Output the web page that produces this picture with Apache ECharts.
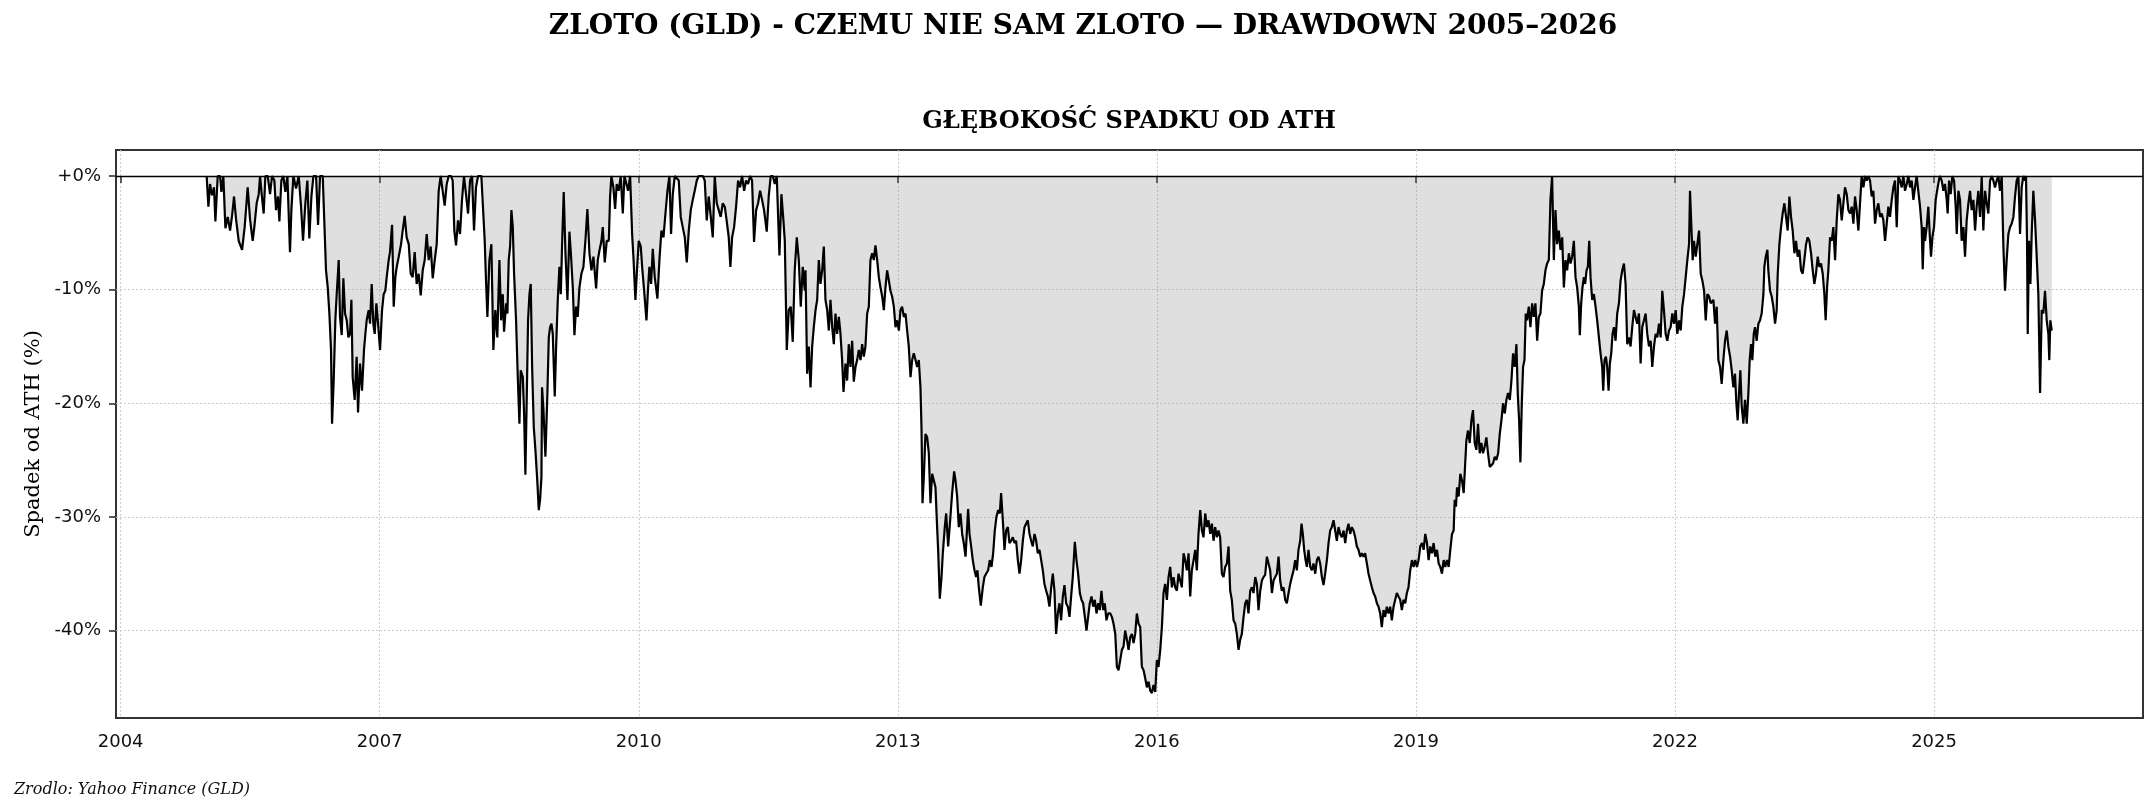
<!DOCTYPE html>
<html>
<head>
<meta charset="utf-8">
<script src="https://cdn.jsdelivr.net/npm/echarts@6/dist/echarts.min.js"></script>
<style>
html, body { margin: 0; padding: 0; background: #fff; }
#chart { width: 2156px; height: 812px; }
</style>
</head>
<body>
<div id="chart"></div>
<script>
// drawdown of GLD from its running high, in %, x = decimal year
var yrs05 = [2004.996,2005.016,2005.035,2005.058,2005.081,2005.097,2005.124,2005.151,2005.166,2005.189,
2005.213,2005.240,2005.267,2005.290,2005.313,2005.336,2005.367,2005.406,2005.436,2005.471,
2005.498,2005.529,2005.548,2005.575,2005.599,2005.614,2005.633,2005.656,2005.676,2005.703,
2005.730,2005.753,2005.780,2005.799,2005.822,2005.838,2005.861,2005.884,2005.907,2005.931,
2005.961,2005.977,2006.000,2006.031,2006.062,2006.089,2006.112,2006.139,2006.162,2006.185,
2006.209,2006.232,2006.263,2006.286,2006.309,2006.340,2006.363,2006.378,2006.398,2006.417,
2006.436,2006.448,2006.467,2006.486,2006.502,2006.525,2006.540,2006.560,2006.579,2006.598,
2006.618,2006.637,2006.656,2006.672,2006.687,2006.710,2006.733,2006.749,2006.772,2006.795,
2006.818,2006.834,2006.849,2006.872,2006.888,2006.907,2006.926,2006.942,2006.961,2006.984,
2007.004,2007.027,2007.046,2007.065,2007.081,2007.104,2007.119,2007.143,2007.162,2007.181,
2007.197,2007.220,2007.247,2007.266,2007.289,2007.312,2007.336,2007.359,2007.382,2007.405,
2007.428,2007.451,2007.475,2007.498,2007.521,2007.544,2007.567,2007.590,2007.614,2007.637,
2007.660,2007.683,2007.706,2007.729,2007.752,2007.776,2007.799,2007.826,2007.845,2007.864,
2007.884,2007.907,2007.930,2007.953,2007.976,2007.999,2008.023,2008.046,2008.069,2008.092,
2008.115,2008.139,2008.177,2008.200,2008.216,2008.231,2008.247,2008.270,2008.293,2008.316,
2008.339,2008.362];
var dd05 = [0,-2.7,-0.7,-1.7,-1.0,-4.0,0,0,-1.4,0,
-4.6,-3.6,-4.8,-3.5,-1.8,-3.8,-5.7,-6.5,-4.5,-1.0,
-3.8,-5.7,-4.5,-2.4,-1.6,0,-1.6,-3.3,0,0,
-1.6,0,-0.4,-3.0,-1.8,-4.0,-0.4,0,-1.4,0,
-6.7,-3.0,0,-1.1,0,-2.7,-5.7,-2.4,-0.4,-5.5,
-1.8,0,0,-4.3,0,0,0,-8.3,-9.8,-12.1,
-15.3,-21.8,-18.0,-12.7,-10.4,-7.4,-12.4,-14.0,-9.0,-12.1,
-12.7,-14.2,-13.9,-10.9,-17.7,-19.7,-15.9,-20.8,-16.5,-18.9,
-15.3,-13.9,-12.7,-11.8,-13.0,-9.5,-13.0,-13.9,-11.2,-13.3,
-15.3,-11.8,-10.4,-10.1,-8.9,-7.4,-6.7,-4.3,-11.5,-8.9,
-8.0,-7.1,-6.0,-4.8,-3.5,-5.4,-6.0,-8.6,-8.9,-6.7,
-9.5,-8.6,-10.5,-8.3,-7.4,-5.1,-7.4,-6.2,-9.0,-7.4,
-6.0,-1.3,0,0,-2.6,-0.7,0,0,-0.4,-4.8,
-6.1,-3.9,-5.1,-2.1,0,-1.6,-3.3,-0.4,0,-4.8,
-1.0,0,0,0,-5.7,-9.2,-12.4,-7.4,-6.0,-15.3,
-11.8,-14.2];

var yrs08 = [2008.386,2008.406,2008.425,2008.440,2008.464,2008.479,2008.494,2008.510,2008.525,2008.541,
2008.556,2008.579,2008.599,2008.618,2008.633,2008.657,2008.672,2008.687,2008.703,2008.718,
2008.734,2008.749,2008.765,2008.784,2008.803,2008.826,2008.842,2008.857,2008.873,2008.880,
2008.896,2008.919,2008.942,2008.958,2008.973,2008.989,2009.004,2009.027,2009.043,2009.062,
2009.081,2009.097,2009.112,2009.131,2009.151,2009.174,2009.197,2009.216,2009.236,2009.255,
2009.274,2009.293,2009.313,2009.336,2009.359,2009.382,2009.405,2009.429,2009.452,2009.475,
2009.506,2009.525,2009.546,2009.568,2009.583,2009.606,2009.629,2009.653,2009.668,2009.683,
2009.706,2009.726,2009.745,2009.768,2009.791,2009.815,2009.834,2009.853,2009.876,2009.900,
2009.923,2009.938,2009.961,2009.977,2010.000,2010.023,2010.039,2010.062,2010.089,2010.108,
2010.123,2010.143,2010.162,2010.185,2010.216,2010.239,2010.262,2010.286,2010.309,2010.332,
2010.355,2010.374,2010.394,2010.417,2010.440,2010.463,2010.486,2010.509,2010.533,2010.556,
2010.579,2010.602,2010.625,2010.648,2010.672,2010.695,2010.718,2010.741,2010.764,2010.787,
2010.810,2010.834,2010.857,2010.880,2010.903,2010.926,2010.949,2010.973,2010.996,2011.019,
2011.042,2011.061,2011.081,2011.104,2011.127,2011.150,2011.173,2011.196,2011.220,2011.243,
2011.266,2011.289,2011.312,2011.335,2011.359,2011.382,2011.405,2011.428,2011.451,2011.482,
2011.505,2011.528,2011.552,2011.575,2011.598,2011.613,2011.629,2011.652,2011.675,2011.691,
2011.714,2011.737,2011.760,2011.783,2011.806,2011.830,2011.853,2011.876,2011.899,2011.922];
var dd08 = [-7.4,-12.7,-10.4,-13.7,-11.2,-12.1,-7.4,-6.2,-3.0,-4.5,
-8.6,-12.7,-17.7,-21.8,-17.1,-17.7,-20.9,-26.3,-19.4,-12.7,
-10.4,-9.5,-16.8,-22.1,-24.1,-27.0,-29.4,-28.5,-26.5,-18.6,
-20.6,-24.7,-19.1,-14.2,-13.3,-13.0,-13.9,-19.4,-15.0,-10.9,
-8.0,-10.4,-6.0,-1.4,-6.8,-10.9,-4.9,-7.1,-9.8,-14.0,
-11.5,-12.4,-9.8,-8.6,-8.0,-5.7,-2.9,-6.8,-8.3,-7.1,
-9.9,-7.4,-6.5,-5.7,-4.5,-7.6,-5.7,-5.7,-1.8,0,
-1.0,-2.9,-0.7,-1.3,0,-3.3,0,0,-1.3,0,
-5.1,-7.1,-10.9,-8.6,-5.7,-6.2,-8.0,-10.1,-12.7,-9.8,
-8.0,-9.5,-6.4,-8.9,-10.8,-7.4,-4.8,-5.4,-3.3,-1.3,
0,-5.1,-1.6,0,0,-0.4,-3.6,-4.5,-5.4,-7.6,
-4.8,-3.0,-2.1,-1.3,-0.4,0,0,0,-0.4,-3.9,
-1.8,-3.6,-5.4,0,-2.4,-3.0,-3.6,-2.4,-2.7,-4.0,
-5.4,-8.0,-5.4,-4.5,-2.7,-0.4,-1.0,0,-1.3,-0.4,
-0.7,0,-0.4,-5.8,-3.0,-2.4,-1.3,-2.1,-3.0,-4.9,
-1.8,0,0,-0.7,0,0,-7.0,-1.6,-3.9,-5.7,
-15.3,-11.8,-11.5,-14.6,-8.3,-5.4,-7.4,-11.5,-8.0,-10.1];

var yrs12 = [2011.931,2011.950,2011.969,2011.989,2012.008,2012.027,2012.047,2012.066,2012.085,2012.104,
2012.124,2012.143,2012.162,2012.182,2012.201,2012.220,2012.240,2012.259,2012.278,2012.297,
2012.317,2012.336,2012.355,2012.371,2012.394,2012.413,2012.432,2012.452,2012.471,2012.490,
2012.510,2012.529,2012.548,2012.568,2012.587,2012.606,2012.625,2012.645,2012.664,2012.683,
2012.703,2012.722,2012.741,2012.761,2012.780,2012.799,2012.819,2012.838,2012.857,2012.876,
2012.896,2012.915,2012.934,2012.954,2012.973,2012.992,2013.012,2013.031,2013.050,2013.069,
2013.089,2013.108,2013.127,2013.147,2013.166,2013.185,2013.205,2013.224,2013.243,2013.262,
2013.274,2013.286,2013.301,2013.320,2013.340,2013.359,2013.378,2013.398,2013.417,2013.436,
2013.455,2013.467,2013.486,2013.506,2013.521,2013.544,2013.560,2013.583,2013.606,2013.629,
2013.652,2013.668,2013.687,2013.706,2013.726,2013.745,2013.764,2013.784,2013.803,2013.814,
2013.830,2013.849,2013.868,2013.888,2013.907,2013.922,2013.938,2013.961,2013.984,2014.003,
2014.023,2014.046,2014.065,2014.085,2014.104,2014.123,2014.142,2014.162,2014.181,2014.196,
2014.216,2014.235,2014.254,2014.274,2014.293,2014.312,2014.332,2014.351,2014.370,2014.390,
2014.409,2014.428,2014.448,2014.467,2014.486,2014.505,2014.525,2014.544,2014.563,2014.583,
2014.602,2014.621,2014.641,2014.660,2014.679,2014.698,2014.718,2014.737,2014.756,2014.776,
2014.795,2014.814,2014.833,2014.853,2014.872,2014.891,2014.911,2014.930,2014.949,2014.969,
2014.988,2015.007,2015.026,2015.050,2015.069,2015.088,2015.108,2015.127,2015.146,2015.166,
2015.185,2015.204,2015.223,2015.243,2015.262,2015.281,2015.301,2015.320,2015.339,2015.358,
2015.378,2015.397,2015.416,2015.436];
var dd12 = [-8.3,-17.4,-15.0,-18.6,-15.0,-13.3,-11.8,-10.9,-7.4,-9.5,
-8.3,-6.2,-10.9,-11.8,-13.6,-10.9,-13.3,-14.8,-12.1,-13.9,
-12.4,-13.9,-16.2,-19.0,-16.5,-18.0,-14.8,-16.8,-14.5,-18.1,
-16.8,-16.2,-15.3,-16.2,-14.8,-15.9,-15.0,-12.1,-11.5,-7.4,
-6.8,-7.4,-6.1,-7.4,-8.9,-9.8,-10.6,-11.8,-9.8,-8.3,
-9.2,-10.1,-10.6,-11.5,-13.3,-12.7,-13.6,-11.8,-11.5,-12.4,
-12.1,-13.6,-15.0,-17.7,-16.2,-15.6,-16.2,-16.8,-16.2,-18.6,
-22.1,-28.8,-26.5,-22.7,-23.0,-24.4,-28.8,-26.2,-26.8,-27.4,
-30.9,-32.9,-37.2,-35.3,-33.2,-30.9,-29.7,-32.6,-30.3,-27.9,
-26.0,-26.8,-28.2,-30.9,-29.7,-31.5,-32.3,-33.5,-30.9,-29.3,
-31.5,-32.6,-33.8,-34.7,-35.3,-34.7,-36.2,-37.8,-36.2,-35.3,
-35.0,-34.7,-33.8,-34.4,-33.2,-31.2,-30.0,-29.4,-29.7,-27.9,
-30.3,-32.9,-31.2,-30.9,-32.3,-32.1,-31.8,-32.3,-32.1,-33.8,
-35.0,-33.8,-32.1,-30.9,-30.6,-30.3,-31.5,-32.1,-32.6,-31.5,
-32.1,-33.2,-32.9,-33.8,-34.7,-35.9,-36.5,-37.0,-37.9,-36.2,
-35.0,-36.5,-40.3,-38.5,-37.6,-39.1,-37.0,-36.0,-37.6,-37.9,
-38.8,-37.0,-35.3,-32.2,-33.8,-35.0,-36.7,-37.3,-37.6,-38.8,
-40.0,-40.0,-37.6,-37.0,-37.9,-37.3,-38.5,-37.6,-38.2,-36.5,
-38.2,-37.6,-39.1,-38.5];

var yrs15 = [2015.460,2015.479,2015.498,2015.518,2015.537,2015.556,2015.575,2015.595,2015.614,2015.633,
2015.653,2015.672,2015.691,2015.711,2015.730,2015.749,2015.768,2015.788,2015.807,2015.826,
2015.846,2015.865,2015.884,2015.904,2015.923,2015.942,2015.961,2015.981,2016.000,2016.019,
2016.039,2016.058,2016.077,2016.096,2016.116,2016.135,2016.154,2016.174,2016.193,2016.212,
2016.232,2016.251,2016.270,2016.289,2016.309,2016.328,2016.347,2016.367,2016.386,2016.405,
2016.425,2016.444,2016.463,2016.482,2016.502,2016.521,2016.540,2016.560,2016.579,2016.598,
2016.618,2016.637,2016.656,2016.675,2016.695,2016.714,2016.733,2016.753,2016.772,2016.791,
2016.811,2016.830,2016.849,2016.868,2016.888,2016.907,2016.926,2016.946,2016.965,2016.984,
2017.004,2017.023,2017.042,2017.061,2017.081,2017.100,2017.119,2017.139,2017.158,2017.177,
2017.197,2017.216,2017.235,2017.254,2017.274,2017.293,2017.312,2017.332,2017.351,2017.370,
2017.390,2017.409,2017.428,2017.447,2017.467,2017.486,2017.505,2017.525,2017.544,2017.563,
2017.583,2017.602,2017.621,2017.640,2017.660,2017.675,2017.690,2017.706,2017.722,2017.737,
2017.756,2017.776,2017.795,2017.814,2017.834,2017.853,2017.872,2017.891,2017.911,2017.930,
2017.949,2017.969,2017.988,2018.007,2018.026,2018.046,2018.065,2018.084,2018.104,2018.123,
2018.142,2018.162,2018.181,2018.200,2018.219,2018.239,2018.258,2018.277,2018.297,2018.316,
2018.335,2018.355,2018.374,2018.393,2018.412,2018.432,2018.451,2018.470,2018.490,2018.509,
2018.528,2018.548,2018.567,2018.586,2018.605,2018.625,2018.644,2018.663,2018.683,2018.702,
2018.721,2018.741,2018.760,2018.779,2018.798,2018.818,2018.837,2018.856,2018.876,2018.895,
2018.914];
var dd15 = [-38.5,-38.8,-39.4,-40.3,-43.2,-43.5,-43.6,-41.7,-41.4,-40.0,
-40.8,-41.7,-40.6,-40.3,-41.1,-40.3,-38.5,-39.4,-39.7,-43.2,
-43.5,-44.2,-45.0,-44.5,-45.3,-45.5,-44.8,-45.4,-42.6,-43.2,
-41.7,-39.7,-36.7,-35.9,-37.3,-35.3,-34.4,-36.2,-35.3,-36.2,
-36.5,-35.0,-35.0,-36.2,-33.2,-33.8,-34.7,-33.2,-37.0,-34.7,
-33.8,-32.9,-34.7,-31.5,-29.4,-31.2,-31.8,-29.7,-30.9,-30.3,
-31.5,-30.6,-32.1,-30.9,-31.8,-31.2,-31.8,-35.0,-35.3,-34.4,
-34.1,-32.6,-36.5,-37.3,-39.1,-39.4,-40.3,-41.7,-40.8,-40.3,
-38.8,-37.6,-37.3,-38.5,-36.5,-36.2,-36.7,-35.3,-35.9,-38.2,
-36.5,-35.6,-35.3,-35.1,-33.5,-34.1,-34.7,-36.7,-35.6,-35.3,
-35.0,-33.5,-35.6,-36.5,-36.2,-37.3,-37.6,-36.7,-35.9,-35.3,
-34.7,-33.8,-34.7,-32.9,-32.1,-30.6,-31.5,-32.9,-33.8,-34.4,
-32.9,-34.4,-34.7,-34.1,-35.0,-33.8,-33.5,-34.1,-35.3,-36.0,
-35.0,-33.8,-32.3,-31.2,-30.9,-30.3,-31.2,-32.1,-30.9,-31.5,
-31.8,-31.2,-32.3,-31.2,-30.6,-31.5,-30.9,-31.2,-31.8,-32.6,
-32.9,-33.5,-33.2,-33.5,-33.2,-34.1,-35.0,-35.6,-36.2,-36.7,
-37.0,-37.6,-37.9,-38.5,-39.7,-38.2,-38.8,-37.9,-38.5,-37.9,
-39.1,-37.9,-37.3,-36.7,-37.0,-37.3,-38.2,-37.3,-37.6,-36.7,
-36.2];

var yrs19 = [2018.934,2018.954,2018.973,2018.992,2019.012,2019.031,2019.050,2019.070,2019.089,2019.108,
2019.128,2019.147,2019.166,2019.186,2019.205,2019.224,2019.244,2019.263,2019.282,2019.302,
2019.321,2019.340,2019.360,2019.379,2019.398,2019.418,2019.437,2019.449,2019.464,2019.476,
2019.495,2019.514,2019.534,2019.553,2019.584,2019.603,2019.623,2019.642,2019.661,2019.681,
2019.700,2019.719,2019.739,2019.758,2019.777,2019.797,2019.816,2019.835,2019.855,2019.874,
2019.893,2019.913,2019.932,2019.952,2019.971,2019.990,2020.009,2020.029,2020.048,2020.067,
2020.087,2020.106,2020.125,2020.144,2020.164,2020.179,2020.195,2020.210,2020.226,2020.241,
2020.257,2020.272,2020.287,2020.307,2020.326,2020.346,2020.365,2020.384,2020.404,2020.423,
2020.442,2020.461,2020.481,2020.500,2020.519,2020.539,2020.558,2020.577,2020.597,2020.616,
2020.635,2020.655,2020.674,2020.694,2020.713,2020.732,2020.751,2020.771,2020.790,2020.809,
2020.829,2020.848,2020.867,2020.887,2020.898,2020.914,2020.929,2020.945,2020.960,2020.976,
2020.991,2021.007,2021.022,2021.041,2021.061,2021.080,2021.099,2021.119,2021.138,2021.157,
2021.169,2021.184,2021.200,2021.215,2021.231,2021.246,2021.262,2021.277,2021.293,2021.312,
2021.331,2021.351,2021.370,2021.389,2021.409,2021.428,2021.447,2021.467,2021.486,2021.505,
2021.525,2021.544,2021.563,2021.583,2021.602,2021.621,2021.641,2021.660,2021.679,2021.699,
2021.718,2021.737,2021.757,2021.776,2021.795,2021.815,2021.834,2021.853,2021.872,2021.892,
2021.911,2021.931,2021.950,2021.969,2021.989,2022.008,2022.027,2022.047,2022.066,2022.085,
2022.105,2022.124,2022.143,2022.163,2022.174,2022.190,2022.205,2022.220,2022.240,2022.259,
2022.279,2022.298,2022.317,2022.337,2022.356,2022.375,2022.395,2022.414];
var dd19 = [-34.7,-33.8,-34.4,-33.8,-34.4,-33.8,-32.6,-32.3,-32.9,-31.5,
-32.3,-33.8,-32.6,-33.2,-32.3,-33.5,-32.9,-34.1,-34.4,-35.0,
-33.8,-34.4,-33.8,-34.4,-32.9,-31.5,-31.2,-28.5,-29.1,-27.4,
-28.2,-26.2,-26.8,-27.9,-23.3,-22.4,-23.5,-21.5,-20.6,-23.5,
-24.1,-21.8,-24.4,-23.5,-24.4,-23.8,-23.0,-24.4,-25.6,-25.6,
-25.3,-24.7,-25.0,-24.4,-22.7,-21.5,-20.0,-20.9,-19.7,-19.1,
-19.7,-18.0,-15.6,-16.8,-14.8,-19.1,-21.5,-25.2,-20.0,-16.8,
-16.2,-12.1,-12.7,-11.5,-13.3,-11.2,-12.4,-11.2,-14.5,-12.4,
-12.1,-10.1,-9.5,-8.3,-7.7,-7.4,-2.1,0,-7.4,-3.0,
-6.0,-4.8,-6.5,-5.4,-9.8,-7.4,-8.3,-6.8,-7.7,-7.1,
-5.7,-8.9,-9.8,-11.5,-14.0,-11.2,-9.8,-8.9,-9.5,-8.3,
-8.0,-5.7,-8.9,-10.9,-10.4,-11.5,-12.7,-12.7,-15.6,-16.8,
-18.9,-16.2,-15.9,-16.8,-18.9,-16.5,-15.6,-13.9,-13.3,-14.5,
-12.1,-11.2,-9.2,-8.3,-7.7,-9.5,-14.8,-14.2,-15.0,-13.3,
-11.8,-12.4,-13.0,-12.1,-16.5,-13.3,-12.7,-12.1,-13.9,-15.0,
-14.5,-16.8,-15.0,-13.9,-14.2,-13.0,-14.2,-10.1,-11.8,-13.9,
-14.5,-13.6,-13.3,-12.1,-13.0,-11.8,-13.9,-12.7,-13.6,-11.5,
-10.4,-8.9,-7.4,-6.0,-1.3,-4.5,-7.4,-5.7,-7.1,-6.0,
-4.8,-8.6,-9.2,-10.1,-12.7,-10.4,-10.6,-11.2];

var yrs22 = [2022.445,2022.464,2022.483,2022.502,2022.522,2022.541,2022.560,2022.580,2022.599,2022.618,
2022.638,2022.657,2022.676,2022.695,2022.711,2022.726,2022.742,2022.757,2022.773,2022.792,
2022.811,2022.831,2022.850,2022.865,2022.881,2022.896,2022.912,2022.927,2022.946,2022.966,
2022.985,2023.004,2023.024,2023.035,2023.051,2023.070,2023.081,2023.101,2023.120,2023.139,
2023.159,2023.178,2023.190,2023.209,2023.228,2023.247,2023.267,2023.286,2023.305,2023.325,
2023.344,2023.363,2023.383,2023.402,2023.421,2023.440,2023.460,2023.479,2023.498,2023.518,
2023.537,2023.556,2023.576,2023.595,2023.614,2023.633,2023.653,2023.672,2023.691,2023.711,
2023.730,2023.745,2023.761,2023.776,2023.796,2023.815,2023.834,2023.854,2023.873,2023.892,
2023.911,2023.931,2023.950,2023.969,2023.989,2024.008,2024.027,2024.047,2024.066,2024.085,
2024.104,2024.124,2024.143,2024.162,2024.182,2024.201,2024.220,2024.240,2024.259,2024.278,
2024.297,2024.317,2024.336,2024.355,2024.375,2024.394,2024.413,2024.433,2024.452,2024.471,
2024.490,2024.510,2024.529,2024.548,2024.568,2024.587,2024.606,2024.626,2024.645,2024.664,
2024.684,2024.703,2024.722,2024.741,2024.761,2024.780,2024.799,2024.819,2024.838,2024.857,
2024.869,2024.884,2024.896,2024.915,2024.934,2024.954,2024.965,2024.981,2025.000,2025.019,
2025.042,2025.066,2025.089,2025.108,2025.127,2025.147,2025.158,2025.174,2025.193,2025.212,
2025.232,2025.251,2025.263,2025.282,2025.301,2025.320,2025.340,2025.359,2025.378,2025.398,
2025.417,2025.436,2025.456,2025.475,2025.494,2025.513,2025.533,2025.552,2025.571,2025.591,
2025.610,2025.629,2025.649,2025.668,2025.687,2025.706,2025.726,2025.745,2025.764,2025.784,
2025.803,2025.822,2025.841,2025.861,2025.880,2025.899,2025.919,2025.938,2025.957,2025.977,
2025.996,2026.015,2026.034,2026.054,2026.065,2026.077,2026.085,2026.100,2026.116,2026.131,
2026.150,2026.170,2026.189,2026.208,2026.228,2026.247,2026.266,2026.285,2026.305,2026.324,
2026.335,2026.347,2026.363];
var dd22 = [-10.9,-13.0,-11.5,-16.2,-16.8,-18.3,-16.2,-14.5,-13.6,-15.0,
-15.9,-17.1,-18.6,-17.4,-20.0,-21.5,-19.1,-17.1,-20.3,-21.8,
-19.7,-21.8,-19.1,-16.2,-14.8,-16.2,-13.9,-13.3,-14.5,-13.0,
-12.7,-12.1,-10.4,-8.0,-7.1,-6.5,-8.3,-10.1,-10.6,-11.5,
-13.0,-11.8,-8.6,-6.0,-4.5,-3.3,-2.4,-3.6,-4.8,-1.8,
-3.6,-4.8,-6.8,-5.7,-7.1,-6.5,-8.3,-8.6,-7.4,-6.0,
-5.4,-5.7,-6.8,-8.3,-9.5,-8.6,-7.1,-8.0,-7.7,-8.6,
-10.4,-12.7,-9.8,-8.3,-5.4,-5.7,-4.5,-7.4,-3.9,-1.6,
-2.1,-3.9,-2.4,-1.0,-1.6,-3.0,-3.3,-2.7,-4.2,-1.8,
-3.0,-4.8,-2.4,0,-1.0,0,-0.4,0,-0.4,-1.8,
-1.3,-4.2,-3.0,-2.4,-3.6,-3.3,-3.9,-5.7,-4.2,-2.7,
-3.6,-2.1,-1.0,-0.4,-4.5,0,-0.4,-1.0,0,-1.3,
-0.7,0,-1.0,-0.4,-2.1,-1.0,0,0,-2.7,-4.5,
-8.2,-4.5,-5.7,-4.5,-2.7,-5.7,-7.1,-5.4,-4.5,-2.1,
-1.0,0,-0.4,-1.3,-0.7,-2.1,-3.3,-0.4,-1.6,0,
-0.4,-2.7,-5.1,-1.3,-2.1,-5.7,-4.5,-7.1,-3.9,-2.4,
-1.3,-3.0,-2.1,-4.8,-2.7,-1.3,-3.6,0,-4.8,-1.3,
-2.4,-3.3,-0.4,0,-0.4,-1.0,-0.4,0,-1.3,0,
-6.2,-10.1,-7.4,-5.1,-4.5,-4.2,-3.6,-1.8,-0.4,0,
-5.1,-1.0,0,-0.4,0,-5.7,-13.9,-5.7,-9.5,-5.1,
-1.3,-3.9,-7.1,-10.4,-19.1,-11.8,-12.1,-10.1,-12.7,-13.9,
-16.2,-12.7,-13.6];

var yearTicks = [2004, 2007, 2010, 2013, 2016, 2019, 2022, 2025];
var pctTicks = [0, -10, -20, -30, -40];

var segments = [[yrs05, dd05], [yrs08, dd08], [yrs12, dd12], [yrs15, dd15], [yrs19, dd19], [yrs22, dd22]];
var points = [];
segments.forEach(function (s) {
    if (s[0].length !== s[1].length) console.warn('length mismatch', s[0][0], s[0].length, s[1].length);
    s[0].forEach(function (t, i) { points.push([t, s[1][i]]); });
});

var myChart = echarts.init(document.getElementById('chart'));

var gridLine = { show: true, lineStyle: { color: '#cccccc', width: 1, type: [2, 2] } };
var tickStyle = { color: '#333', width: 1.6 };

var option = {
    animation: false,
    backgroundColor: '#fff',
    grid: {
        left: 116, right: 13, top: 150, bottom: 94,
        show: true, borderColor: '#333', borderWidth: 2
    },
    xAxis: {
        type: 'value',
        min: 2003.946,
        max: 2027.42,
        axisLine: { show: false },
        axisTick: { show: true, length: 7, customValues: yearTicks, lineStyle: tickStyle },
        axisLabel: {
            customValues: yearTicks,
            margin: 15,
            color: '#111',
            fontFamily: 'DejaVu Sans',
            fontSize: 18,
            formatter: function (v) { return String(Math.round(v)); }
        },
        splitLine: gridLine
    },
    yAxis: {
        type: 'value',
        min: -47.7,
        max: 2.29,
        axisLine: { show: false },
        axisTick: { show: true, length: 7, customValues: pctTicks, lineStyle: tickStyle },
        axisLabel: {
            customValues: pctTicks,
            margin: 15,
            color: '#111',
            fontFamily: 'DejaVu Sans',
            fontSize: 18,
            formatter: function (v) { return (v >= 0 ? '+' : '') + Math.round(v) + '%'; }
        },
        splitLine: gridLine
    },
    graphic: [
        {
            type: 'text', x: 1083, y: 27,
            style: {
                text: 'ZLOTO (GLD) - CZEMU NIE SAM ZLOTO \u2014 DRAWDOWN 2005\u20132026',
                font: 'bold 28px "DejaVu Serif"', fill: '#000', align: 'center', verticalAlign: 'middle'
            }
        },
        {
            type: 'text', x: 1129, y: 122,
            style: {
                text: 'GŁĘBOKOŚĆ SPADKU OD ATH',
                font: 'bold 24px "DejaVu Serif"', fill: '#000', align: 'center', verticalAlign: 'middle'
            }
        },
        {
            type: 'text', x: 34, y: 434, rotation: Math.PI / 2,
            style: {
                text: 'Spadek od ATH (%)',
                font: '21px "DejaVu Serif"', fill: '#000', align: 'center', verticalAlign: 'middle'
            }
        },
        {
            type: 'text', x: 14, y: 790,
            style: {
                text: 'Zrodlo: Yahoo Finance (GLD)',
                font: 'italic 16px "DejaVu Serif"', fill: '#111', align: 'left', verticalAlign: 'middle'
            }
        }
    ],
    series: [{
        type: 'line',
        data: points,
        symbol: 'none',
        showSymbol: false,
        lineStyle: { color: '#000', width: 2.2 },
        areaStyle: { color: 'rgba(128,128,128,0.25)', opacity: 1 },
        markLine: {
            silent: true,
            symbol: 'none',
            label: { show: false },
            lineStyle: { color: '#000', width: 1.3, type: 'solid' },
            data: [{ yAxis: 0 }]
        }
    }]
};
myChart.setOption(option);
</script>
</body>
</html>
